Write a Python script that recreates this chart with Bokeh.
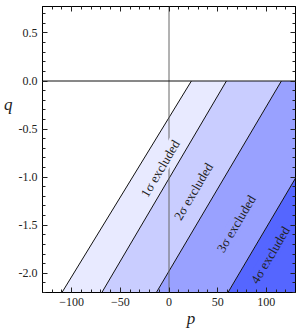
import math
from bokeh.plotting import figure
from bokeh.models import (ColumnDataSource, LinearAxis, Range1d, FixedTicker,
                          SingleIntervalTicker, CustomJSTickFormatter)
from bokeh.embed import file_html
from bokeh.resources import INLINE
from bokeh.core.properties import value

# ---------------- data ----------------
label_texts = ["1σ excluded", "2σ excluded", "3σ excluded", "4σ excluded"]
boundary_p_at_q0 = [23.0, 59.0, 115.5, 189.0]      # p where each boundary meets q = 0
boundary_p_at_qmin = [-110.0, -69.0, -13.0, 60.6]  # p where each boundary meets q = -2.2
label_p = [-9.0, 25.0, 69.0, 104.0]
label_q = [-0.91, -1.15, -1.485, -1.81]
region_colors = ["#e8eaff", "#c9cdff", "#99a1ff", "#5566ff"]

x_tick_interval = 50
y_tick_interval = 0.5
x_title = "p"
y_title = "q"
x_title_at = [22.7]     # p-position of the x title
y_title_at = [-0.24]    # q-position of the y title

P_MIN, P_MAX = -130.0, 130.0
Q_MIN, Q_MAX = -2.2, 0.775
Q_EDGE = 0.0

FONT = "Liberation Serif"

p = figure(width=300, height=330, x_range=Range1d(P_MIN, P_MAX), y_range=Range1d(Q_MIN, Q_MAX),
           output_backend="svg", toolbar_location=None,
           min_border_left=38, min_border_right=5, min_border_top=6, min_border_bottom=34)
p.xgrid.visible = False
p.ygrid.visible = False
p.outline_line_color = "black"
p.background_fill_color = "white"
p.border_fill_color = "white"

# filled regions between consecutive boundaries
far = P_MAX + 100.0
xs, ys = [], []
for i in range(len(boundary_p_at_q0)):
    if i + 1 < len(boundary_p_at_q0):
        rt, rb = boundary_p_at_q0[i + 1], boundary_p_at_qmin[i + 1]
    else:
        rt, rb = far, far
    xs.append([boundary_p_at_qmin[i], boundary_p_at_q0[i], rt, rb])
    ys.append([Q_MIN, Q_EDGE, Q_EDGE, Q_MIN])
p.patches(xs, ys, fill_color=region_colors, line_color=None)

# boundary lines
n = len(boundary_p_at_q0)
p.segment(x0=boundary_p_at_qmin, y0=[Q_MIN] * n, x1=boundary_p_at_q0, y1=[Q_EDGE] * n,
          line_color="#111111", line_width=1)

# reference lines
p.line(x=[0, 0], y=[Q_MIN, Q_MAX], line_color="#666666", line_width=1)
p.line(x=[P_MIN, P_MAX], y=[Q_EDGE, Q_EDGE], line_color="#111111", line_width=1)

# labels along the boundaries
angle = 59.3
src = ColumnDataSource(dict(x=label_p, y=label_q, t=label_texts, bg=region_colors))
p.text(x="x", y="y", text="t", source=src, angle=angle, angle_units="deg",
       text_align="center", text_baseline="middle", background_fill_color="bg",
       text_font=value(FONT), text_font_size="13px", text_color="#222222")

# axes
def style_axis(ax, show_labels=True):
    ax.axis_line_color = "black"
    ax.major_tick_line_color = "#222222"
    ax.minor_tick_line_color = "#222222"
    ax.major_tick_in = 5
    ax.major_tick_out = 0
    ax.minor_tick_in = 3
    ax.minor_tick_out = 0
    ax.major_label_text_font = FONT
    if show_labels:
        ax.major_label_text_color = "#222222"
        ax.major_label_text_font_size = "12px"
        ax.major_label_standoff = 5
    else:
        ax.major_label_text_color = None
        ax.major_label_text_font_size = "0px"
        ax.major_label_standoff = 0

p.xaxis.ticker = SingleIntervalTicker(interval=x_tick_interval, num_minor_ticks=5)
p.yaxis.ticker = SingleIntervalTicker(interval=y_tick_interval, num_minor_ticks=5)
p.yaxis.formatter = CustomJSTickFormatter(code="return tick.toFixed(1);")
style_axis(p.xaxis[0])
style_axis(p.yaxis[0])

top_ax = LinearAxis(ticker=SingleIntervalTicker(interval=x_tick_interval, num_minor_ticks=5))
right_ax = LinearAxis(ticker=SingleIntervalTicker(interval=y_tick_interval, num_minor_ticks=5))
style_axis(top_ax, False)
style_axis(right_ax, False)
p.add_layout(top_ax, "above")
p.add_layout(right_ax, "right")

# axis titles placed where the original has them (not centred): title-only axes
def title_axis(ticks, text, standoff):
    ax = LinearAxis(ticker=FixedTicker(ticks=ticks, minor_ticks=[]),
                    formatter=CustomJSTickFormatter(code="return %r;" % text))
    ax.axis_line_color = None
    ax.major_tick_line_color = None
    ax.minor_tick_line_color = None
    ax.major_tick_in = 0
    ax.major_tick_out = 0
    ax.minor_tick_in = 0
    ax.minor_tick_out = 0
    ax.major_label_standoff = standoff
    ax.major_label_text_font = FONT
    ax.major_label_text_font_style = "italic"
    ax.major_label_text_font_size = "17px"
    ax.major_label_text_color = "#222222"
    return ax

p.add_layout(title_axis(x_title_at, x_title, 0), "below")
p.add_layout(title_axis(y_title_at, y_title, 3), "left")

open("out.html", "w").write(file_html(p, INLINE))
